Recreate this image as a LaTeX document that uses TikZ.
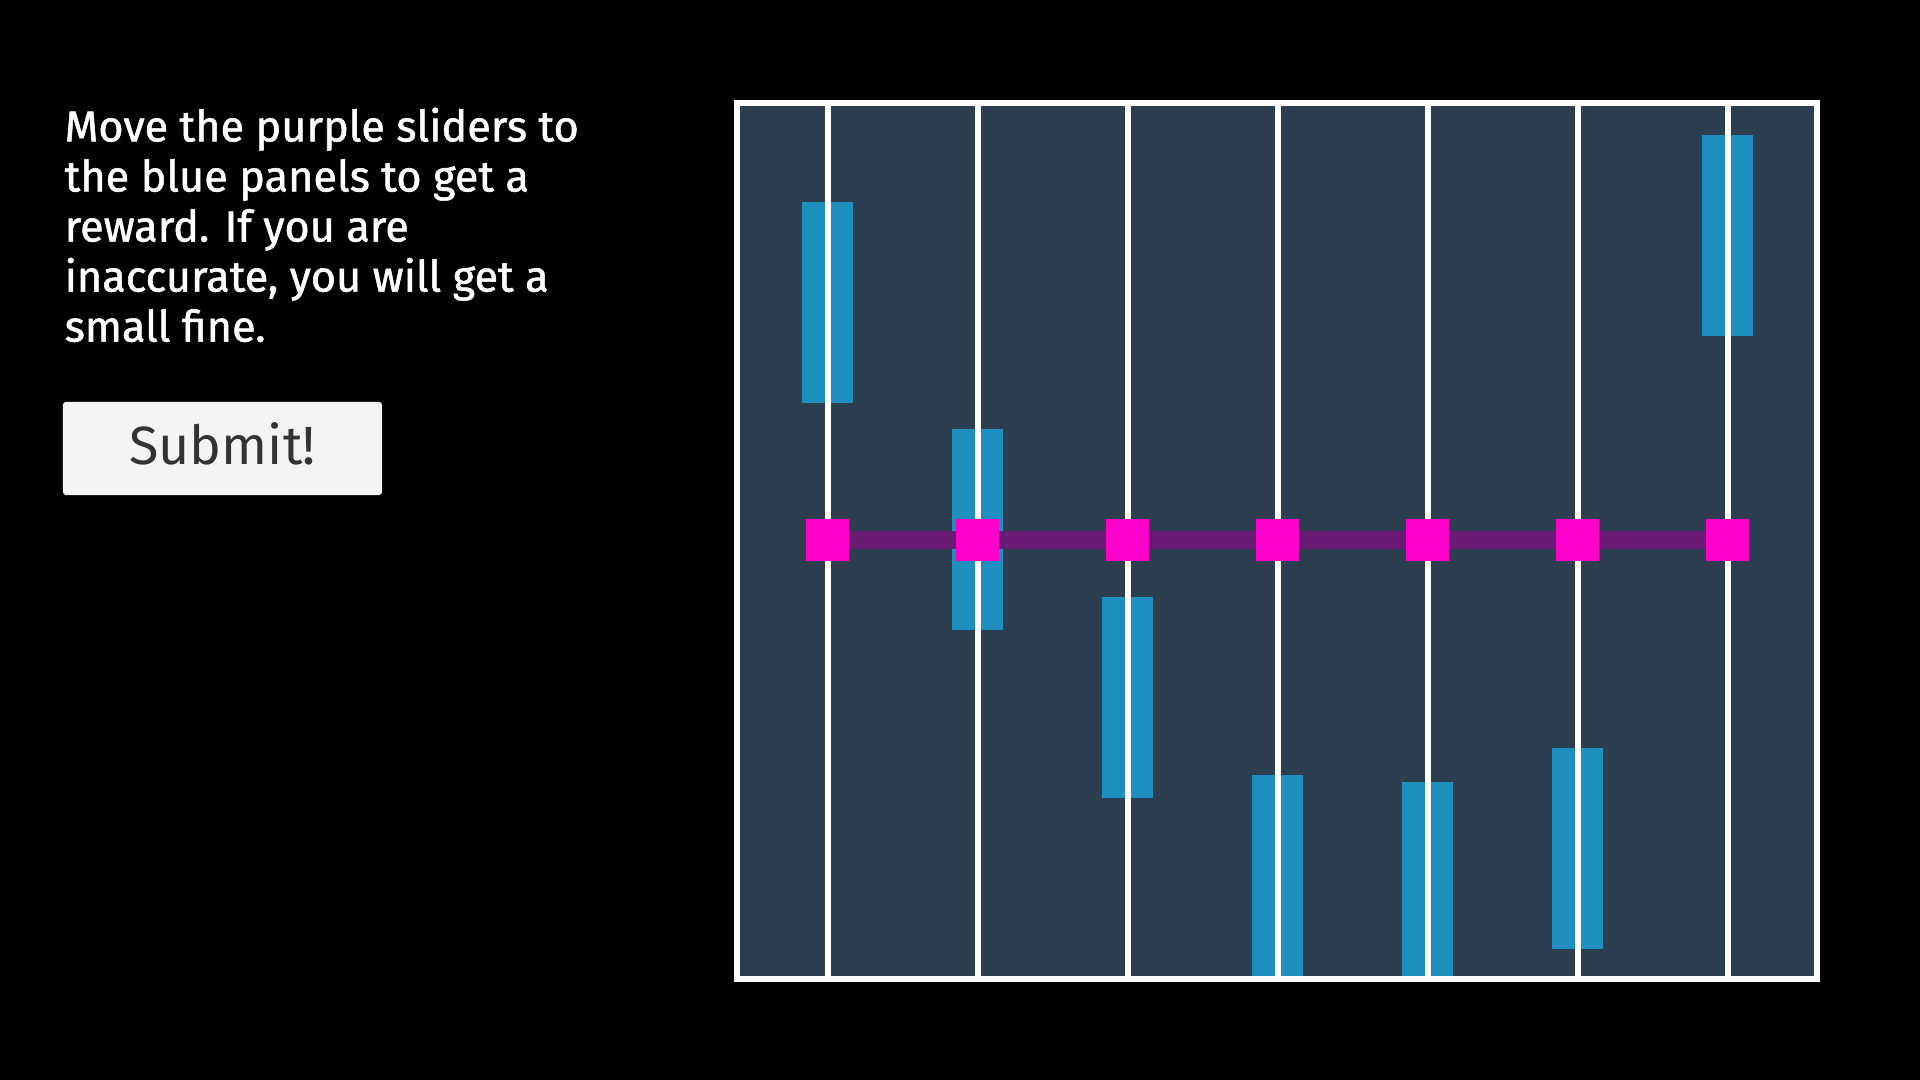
\documentclass[tikz,border=0pt]{standalone}
\usepackage{fontspec}
\setmainfont{Fira Sans}
\newfontfamily\instrfont{Fira Sans}[FakeBold=1.2]
\usepackage{xcolor}
\usetikzlibrary{positioning}
\definecolor{boardbg}{HTML}{2C3E50}
\definecolor{panelblue}{HTML}{1E90C0}
\definecolor{sliderpink}{HTML}{FF00CC}
\definecolor{trackpurple}{HTML}{6A1B75}
\definecolor{buttongray}{HTML}{F4F4F4}
\definecolor{buttontext}{HTML}{333333}

\begin{document}
\begin{tikzpicture}[
    x=0.01cm, y=-0.01cm,
    board/.style={rectangle, draw=white, fill=boardbg, line width=0.06cm, minimum width=10.8cm, minimum height=8.76cm},
    panel/.style={rectangle, fill=panelblue, inner sep=0pt, minimum width=0.5cm, minimum height=2.01cm},
    slider/.style={rectangle, fill=sliderpink, inner sep=0pt, minimum size=0.42cm},
    rail/.style={draw=white, line width=0.06cm},
    track/.style={draw=trackpurple, line width=0.18cm},
    button/.style={rectangle, fill=buttongray, rounded corners=0.03cm, minimum width=3.19cm, minimum height=0.93cm, text=buttontext, font=\fontsize{15.3}{18}\selectfont}
]
\fill[black] (0,0) rectangle (1920,1080);
\useasboundingbox (0,0) rectangle (1920,1080);
% instructions and button
\node[anchor=north west, align=left, inner sep=0pt, text=white, font=\instrfont\fontsize{12.3}{14.23}\selectfont] (instr) at (64,107)
    {Move the purple sliders to\\the blue panels to get a\\reward. If you are\\inaccurate, you will get a\\small fine.};
\node[button] (submit) at (222.5,448.5) {\raisebox{0.1cm}{Submit!}};
% board
\node[board] (brd) at (1277,541) {};
\begin{scope}
    \clip (740,106) rectangle (1814,976);
    \foreach \i/\top in {1/201,2/428,3/596,4/774,5/781,6/747,7/134} {\node[panel, anchor=north] (p\i) at ({677.5+150*\i},\top) {};}
\end{scope}
\foreach \i in {1,...,7} {\draw[rail] ({677.5+150*\i},106) -- ({677.5+150*\i},976);}
% sliders
\foreach \i in {1,...,7} {\node[slider] (s\i) at ({677.5+150*\i},540) {};}
\foreach \i [evaluate=\i as \j using int(\i+1)] in {1,...,6} {\draw[track] (s\i) -- (s\j);}
\end{tikzpicture}
\end{document}
